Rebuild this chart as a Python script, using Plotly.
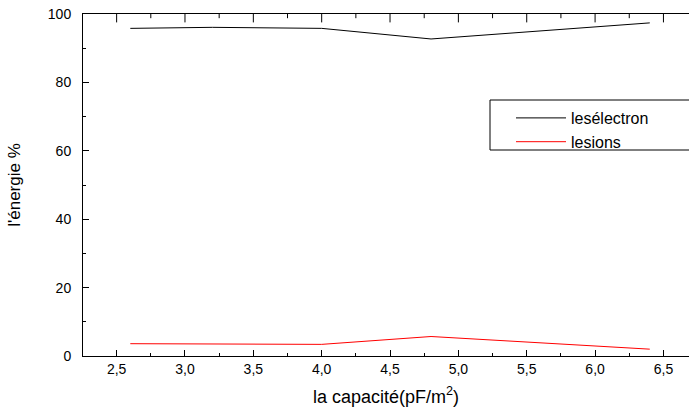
import plotly.graph_objects as go

capacite = [2.6, 3.2, 4.0, 4.8, 6.4]
electrons = [95.8, 96.1, 95.8, 92.7, 97.4]
ions = [3.6, 3.5, 3.4, 5.7, 2.0]
series_names = ["lesélectron", "lesions"]

# tick positions of the top (mirrored) x axis
top_major_ticks = [2.5, 3.0, 3.5, 4.0, 4.5, 5.0, 5.5, 6.0, 6.5]
top_minor_ticks = [2.75, 3.25, 3.75, 4.25, 4.75, 5.25, 5.75, 6.25]
Y_MAX = 100

FONT = "Arial, 'Liberation Sans', sans-serif"
XRANGE = [2.254, 6.687]

fig = go.Figure()
fig.add_trace(go.Scatter(x=capacite, y=electrons, mode="lines", name=series_names[0],
                         line=dict(color="black", width=1)))
fig.add_trace(go.Scatter(x=capacite, y=ions, mode="lines", name=series_names[1],
                         line=dict(color="red", width=1)))

# mirrored tick marks along the top frame (clipped to the plot area so they point inward)
fig.add_trace(go.Scatter(x=top_major_ticks, y=[Y_MAX] * len(top_major_ticks), mode="markers",
                         marker=dict(symbol="line-ns", size=12, line=dict(color="black", width=1)),
                         cliponaxis=True, showlegend=False, hoverinfo="skip"))
fig.add_trace(go.Scatter(x=top_minor_ticks, y=[Y_MAX] * len(top_minor_ticks), mode="markers",
                         marker=dict(symbol="line-ns", size=6, line=dict(color="black", width=1)),
                         cliponaxis=True, showlegend=False, hoverinfo="skip"))

W, H = 689, 411
L, T, B, R = 83, 14, 55, 0
pw = W - L - R
ph = H - T - B

def px_x(px):
    return (px - L) / pw

def px_y(py):
    return (H - B - py) / ph

fig.add_shape(type="rect", xref="paper", yref="paper",
              x0=px_x(490), x1=1.1, y0=px_y(150), y1=px_y(100),
              line=dict(color="black", width=1), fillcolor="white", layer="below")

fig.update_layout(
    width=W, height=H,
    margin=dict(l=L, r=R, t=T, b=B, pad=0, autoexpand=False),
    paper_bgcolor="white", plot_bgcolor="rgba(0,0,0,0)",
    separators=", ",
    font=dict(family=FONT, color="black", size=13),
    showlegend=True,
    legend=dict(x=px_x(511), y=px_y(101), xanchor="left", yanchor="top",
                bgcolor="rgba(0,0,0,0)", borderwidth=0, traceorder="normal",
                font=dict(size=16, family=FONT), itemwidth=50, tracegroupgap=0),
    xaxis=dict(range=XRANGE, dtick=0.5, tick0=2.5, tickformat=".1f",
               showline=True, linecolor="black", linewidth=1, mirror=True,
               ticks="inside", ticklen=6, tickcolor="black", tickwidth=1,
               showgrid=False, zeroline=False,
               minor=dict(dtick=0.25, tick0=2.5, ticks="inside", ticklen=3,
                          tickcolor="black", tickwidth=1, showgrid=False),
               tickfont=dict(size=14),
               title=dict(text="la capacité(pF/m<sup>2</sup>)", font=dict(size=18), standoff=14)),
    yaxis=dict(range=[0, Y_MAX], dtick=20, tick0=0,
               showline=True, linecolor="black", linewidth=1, mirror=False,
               ticks="inside", ticklen=6, tickcolor="black", tickwidth=1,
               showgrid=False, zeroline=False,
               minor=dict(dtick=10, ticks="inside", ticklen=3, tickcolor="black",
                          tickwidth=1, showgrid=False),
               tickfont=dict(size=14), ticklabelstandoff=8,
               title=dict(text="l'énergie %", font=dict(size=17), standoff=22)),
)

fig.write_html("out.html")
